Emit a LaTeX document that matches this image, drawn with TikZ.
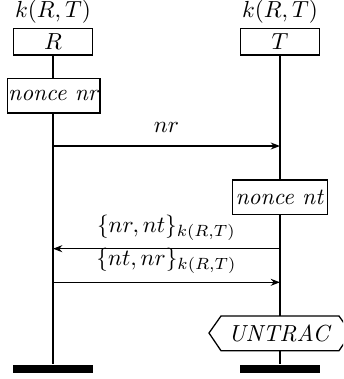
\documentclass[tikz,border=0pt]{standalone}
\usetikzlibrary{arrows.meta}
\begin{document}
\begin{tikzpicture}[x=0.43pt,y=-0.43pt,line width=0.55pt,
  headbox/.style={draw,minimum width=34pt,minimum height=11.5pt,inner sep=0pt},
  actbox/.style={draw,minimum height=14.8pt,inner sep=0pt},
  msg/.style={-{Stealth[length=4pt,width=3pt]}},
  bar/.style={fill=black,draw=none,minimum width=34.4pt,minimum height=3.6pt,inner sep=0pt}]
\clip (0,0) rectangle (343,379);

% instance names and keys
\node (kR) at (53,12) {$k(R,T)$};
\node (kT) at (280,12) {$k(R,T)$};
\node[headbox] (R) at (53,41.7) {$R$};
\node[headbox] (T) at (280,41.7) {$T$};

% local actions
\node[actbox,minimum width=39.9pt] (nr) at (53.7,95.8) {\textit{nonce nr}};
\node[actbox,minimum width=40.9pt] (nt) at (279.8,197.3) {\textit{nonce nt}};

% condition
\node[inner sep=0pt] (un) at (280,333) {\textit{UNTRAC}};
\coordinate (hl) at (209,333);
\coordinate (hr) at (351,333);
\coordinate (htop) at (280,316);
\coordinate (hbot) at (280,350.7);
\draw (hl) -- (221,316) -- (339,316) -- (hr) -- (339,350.7) -- (221,350.7) -- cycle;

% instance ends
\node[bar] (endR) at (53,369.2) {};
\node[bar] (endT) at (280,369.2) {};

% lifelines
\draw (R.south) -- (R.south |- nr.north);
\draw (R.south |- nr.south) -- (endR.north);
\draw (T.south) -- (T.south |- nt.north);
\draw (T.south |- nt.south) -- (htop);
\draw (hbot) -- (endT.north);

% messages
\coordinate (a1) at (53,146);  \coordinate (b1) at (280,146);
\coordinate (a2) at (280,248.7); \coordinate (b2) at (53,248.7);
\coordinate (a3) at (53,282.3); \coordinate (b3) at (280,282.3);
\draw[msg] (a1) -- node[above=2pt] {$nr$} (b1);
\draw[msg] (a2) -- node[above=0pt] {$\{nr,nt\}_{k(R,T)}$} (b2);
\draw[msg] (a3) -- node[above=0pt] {$\{nt,nr\}_{k(R,T)}$} (b3);
\end{tikzpicture}
\end{document}
